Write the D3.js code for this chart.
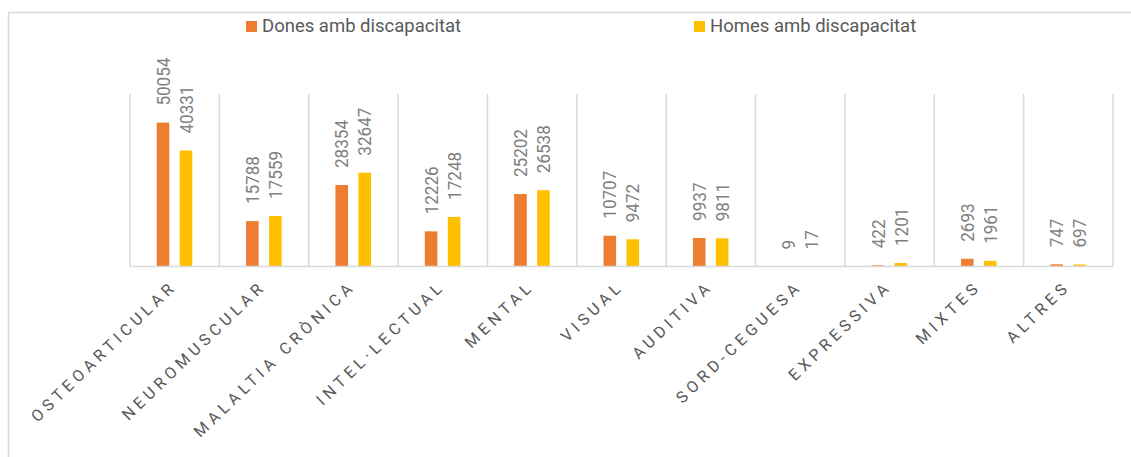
<!DOCTYPE html>
<html>
<head>
<meta charset="utf-8">
<script src="https://cdn.jsdelivr.net/npm/d3@7"></script>
<style>
  body { margin: 0; background: #fff; }
  svg { display: block; font-family: Roboto, "Noto Sans", sans-serif; }
</style>
</head>
<body>
<div id="chart-area"></div>
<script>
const categories = ['OSTEOARTICULAR', 'NEUROMUSCULAR', 'MALALTIA CRÒNICA', 'INTEL·LECTUAL', 'MENTAL',
  'VISUAL', 'AUDITIVA', 'SORD-CEGUESA', 'EXPRESSIVA', 'MIXTES', 'ALTRES'];
const series = ['Dones amb discapacitat', 'Homes amb discapacitat'];
const dones = [50054, 15788, 28354, 12226, 25202, 10707, 9937, 9, 422, 2693, 747];
const homes = [40331, 17559, 32647, 17248, 26538, 9472, 9811, 17, 1201, 1961, 697];
const colors = ['#ED7D31', '#FFC000'];

const drawChart = () => {
  const chartSize = { width: 1131, height: 457 };
  const plot = { left: 130, right: 1113, top: 94, bottom: 266.5 };

  const svg = d3.select('#chart-area')
    .append('svg')
    .attr('width', chartSize.width)
    .attr('height', chartSize.height);

  // outer frame (right and bottom edges fall outside the picture)
  svg.append('rect')
    .attr('x', 8.5).attr('y', 12.5)
    .attr('width', 1140).attr('height', 470)
    .attr('fill', 'none')
    .attr('stroke', '#d9d9d9')
    .attr('stroke-width', 1.5);

  const x = d3.scaleBand()
    .domain(categories)
    .range([plot.left, plot.right]);

  const bw = x.bandwidth();
  const x1 = d3.scaleBand()
    .domain(series)
    .range([bw * 0.299, bw * 0.697])
    .paddingInner(0.452);

  const y = d3.scaleLinear()
    .domain([0, 60000])
    .range([plot.bottom, plot.top]);

  // vertical separators between categories
  const edges = categories.map(c => x(c)).concat([plot.right]);
  svg.append('g').selectAll('line').data(edges).enter()
    .append('line')
    .attr('x1', d => d).attr('x2', d => d)
    .attr('y1', y(60000)).attr('y2', y(0))
    .attr('stroke', '#d9d9d9')
    .attr('stroke-width', 1.5);

  const rows = categories.map((c, i) => ({ cat: c, values: [dones[i], homes[i]] }));

  const groups = svg.selectAll('.cat').data(rows).enter()
    .append('g')
    .attr('class', 'cat')
    .attr('transform', d => `translate(${x(d.cat)},0)`);

  groups.selectAll('rect')
    .data(d => d.values.map((v, k) => ({ s: series[k], v, k })))
    .enter()
    .append('rect')
    .attr('x', d => x1(d.s))
    .attr('y', d => y(d.v))
    .attr('width', x1.bandwidth())
    .attr('height', d => y(0) - y(d.v))
    .attr('fill', d => colors[d.k]);

  groups.selectAll('text.val')
    .data(d => d.values.map((v, k) => ({ s: series[k], v, k })))
    .enter()
    .append('text')
    .attr('class', 'val')
    .attr('transform', d => `translate(${x1(d.s) + x1.bandwidth() / 2},${y(d.v) - 17}) rotate(-90) scale(0.9,1)`)
    .attr('dy', '0.35em')
    .attr('text-anchor', 'start')
    .attr('font-size', 19)
    .attr('fill', '#7f7f7f')
    .text(d => d.v);

  // baseline axis
  svg.append('line')
    .attr('x1', plot.left).attr('x2', plot.right)
    .attr('y1', y(0)).attr('y2', y(0))
    .attr('stroke', '#d9d9d9')
    .attr('stroke-width', 1.5);

  // category labels
  svg.append('g').selectAll('text').data(categories).enter()
    .append('text')
    .attr('transform', c => `translate(${x(c) + bw / 2 + 3},${y(0) + 21}) rotate(-44)`)
    .attr('text-anchor', 'end')
    .attr('font-size', 16)
    .attr('letter-spacing', 4.4)
    .attr('fill', '#595959')
    .text(c => c);

  // legend
  const legendX = [246, 694];
  const legend = svg.selectAll('.legend').data(series).enter()
    .append('g')
    .attr('class', 'legend')
    .attr('transform', (d, i) => `translate(${legendX[i]},21)`);
  legend.append('rect')
    .attr('width', 11).attr('height', 11)
    .attr('fill', (d, i) => colors[i]);
  legend.append('text')
    .attr('x', 16).attr('y', 11)
    .attr('font-size', 18.5)
    .attr('fill', '#595959')
    .text(d => d);
};

window.onload = drawChart;
</script>
</body>
</html>
